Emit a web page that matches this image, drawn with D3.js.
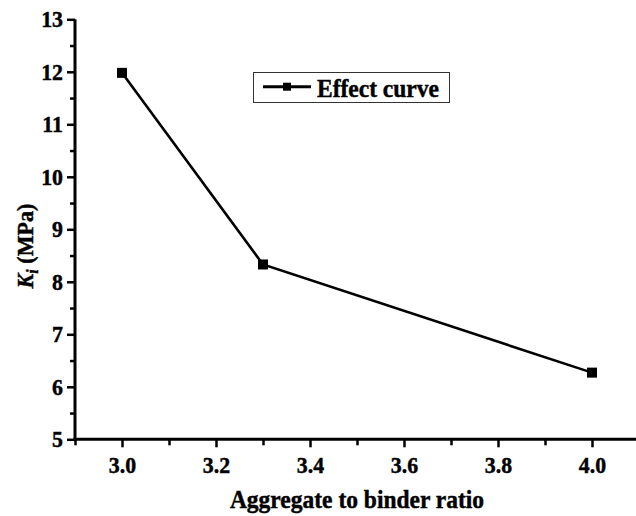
<!DOCTYPE html>
<html><head><meta charset="utf-8">
<script src="https://cdn.jsdelivr.net/npm/d3@7"></script>
<style>
html,body{margin:0;padding:0;background:#fff;}
svg{display:block;}
svg text{font-family:"Liberation Serif","Times New Roman",serif !important;font-weight:bold !important;fill:#000;stroke:#000;stroke-width:0.45px;}
</style></head>
<body>
<script>
const ratios = [3.0, 3.3, 4.0];
const kiValues = [11.98, 8.33, 6.27];
const xTickValues = [3.0, 3.2, 3.4, 3.6, 3.8, 4.0];
const xMinorTicks = [2.9, 3.1, 3.3, 3.5, 3.7, 3.9];
const yTickValues = [5, 6, 7, 8, 9, 10, 11, 12, 13];
const yMinorTicks = [5.5, 6.5, 7.5, 8.5, 9.5, 10.5, 11.5, 12.5];
const seriesName = "Effect curve";
const xTitle = "Aggregate to binder ratio";

const W = 636, H = 516;
const FONT = '"Liberation Serif","Times New Roman",serif';
const svg = d3.select("body").append("svg").attr("width", W).attr("height", H);

const x = d3.scaleLinear().domain([2.9, 4.1]).range([75, 639]);
const y = d3.scaleLinear().domain([5, 13]).range([439.3, 19.3]);

// minor ticks
const gyMinor = svg.append("g").attr("transform", "translate(75,0)")
  .call(d3.axisLeft(y).tickValues(yMinorTicks).tickSize(5).tickSizeOuter(0).tickFormat(""));
const gxMinor = svg.append("g").attr("transform", "translate(0,439.3)")
  .call(d3.axisBottom(x).tickValues(xMinorTicks).tickSize(6).tickSizeOuter(0).tickFormat(""));
[gyMinor, gxMinor].forEach(g => { g.select(".domain").remove(); g.selectAll("line").attr("stroke", "#000").attr("stroke-width", 2.5); });

// major axes
const gy = svg.append("g").attr("transform", "translate(75,0)")
  .call(d3.axisLeft(y).tickValues(yTickValues).tickSize(8).tickSizeOuter(0).tickPadding(4).tickFormat(d3.format("d")));
const gx = svg.append("g").attr("transform", "translate(0,439.3)")
  .call(d3.axisBottom(x).tickValues(xTickValues).tickSize(8).tickSizeOuter(0).tickPadding(9).tickFormat(d3.format(".1f")));
[gy, gx].forEach(g => {
  g.attr("font-family", null).attr("font-size", null);
  g.select(".domain").attr("stroke", "#000").attr("stroke-width", 3);
  g.selectAll(".tick line").attr("stroke", "#000").attr("stroke-width", 2.5);
  g.selectAll(".tick text")
    .style("font-family", FONT).style("font-weight", "bold").style("font-size", "23px").style("fill", "#000");
});
gy.selectAll(".tick text").attr("x", 0).attr("transform", "translate(-12,0) scale(0.95,1)");
gx.selectAll(".tick text").attr("transform", "scale(0.95,1)");
gy.select(".domain").attr("d", "M0," + y(13) + "V" + (y(5) + 1.5));
gx.select(".domain").attr("d", "M" + (x(2.9) - 1.5) + ",0H" + x(4.1));

// line + markers
const data = ratios.map((r, i) => ({ r, v: kiValues[i] }));
svg.append("path").datum(data)
  .attr("fill", "none").attr("stroke", "#000").attr("stroke-width", 2.6)
  .attr("d", d3.line().x(d => x(d.r)).y(d => y(d.v)));
svg.selectAll("rect.pt").data(data).enter().append("rect").attr("class", "pt")
  .attr("x", d => x(d.r) - 5).attr("y", d => y(d.v) - 5)
  .attr("width", 10).attr("height", 10).attr("fill", "#000");

// axis titles
svg.append("text").attr("transform", "translate(357,508) scale(0.94,1)").attr("text-anchor", "middle")
  .style("font-size", "25px").text(xTitle);

const yl = svg.append("text").attr("transform", "translate(33,246) rotate(-90) scale(0.94,1)")
  .attr("text-anchor", "middle").style("font-size", "23.5px");
yl.append("tspan").style("font-style", "italic").text("K");
yl.append("tspan").style("font-style", "italic").style("font-size", "17px").attr("dy", 5).text("i");
yl.append("tspan").attr("dy", -5).text(" (MPa)");

// legend
const lg = svg.append("g");
lg.append("rect").attr("x", 253.5).attr("y", 72.5).attr("width", 196).attr("height", 30)
  .attr("fill", "#fff").attr("stroke", "#333").attr("stroke-width", 1);
lg.append("line").attr("x1", 263).attr("x2", 311).attr("y1", 86.7).attr("y2", 86.7)
  .attr("stroke", "#000").attr("stroke-width", 3);
lg.append("rect").attr("x", 283).attr("y", 82.7).attr("width", 8).attr("height", 8).attr("fill", "#000");
lg.append("text").attr("transform", "translate(317,96.5) scale(0.94,1)").style("font-size", "25px").text(seriesName);
</script>
</body></html>
